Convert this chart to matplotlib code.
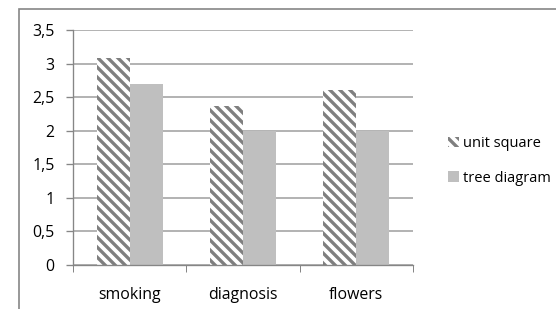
import matplotlib.pyplot as plt
from matplotlib.patches import Rectangle, Patch
import numpy as np

categories = ["smoking", "diagnosis", "flowers"]
unit_square = [3.08, 2.37, 2.6]
tree_diagram = [2.7, 2.0, 2.0]
series_names = ["unit square", "tree diagram"]
y_ticks = [0, 0.5, 1, 1.5, 2, 2.5, 3, 3.5]
y_tick_labels = ["0", "0,5", "1", "1,5", "2", "2,5", "3", "3,5"]

DPI = 120
plt.rcParams['font.family'] = ['Open Sans', 'DejaVu Sans']
plt.rcParams['hatch.linewidth'] = 2.0

fig = plt.figure(figsize=(556 / DPI, 309 / DPI), dpi=DPI)
ax = fig.add_axes([73 / 556, 44 / 309, 340 / 556, 235 / 309])

# chart border (cut off at right and bottom in the original)
fig.patches.append(Rectangle((19 / 556, -0.1), 1.2, (309 - 9) / 309 + 0.1,
                             transform=fig.transFigure, fill=False,
                             edgecolor='#868686', linewidth=1.0))

x = np.arange(len(categories)) + 0.5
w = 0.29
ax.bar(x - w / 2, unit_square, width=w, facecolor='white', hatch='\\\\\\\\',
       edgecolor='#7f7f7f', linewidth=0, zorder=3)
ax.bar(x + w / 2, tree_diagram, width=w, color='#bfbfbf', linewidth=0,
       zorder=3)

ax.set_xlim(0, 3)
ax.set_ylim(0, 3.5)
ax.set_yticks(y_ticks)
ax.set_yticklabels(y_tick_labels)
ax.set_xticks(x)
ax.set_xticklabels(categories)
ax.set_xticks([0, 1, 2, 3], minor=True)
ax.tick_params(axis='x', which='major', length=0, pad=13, labelsize=9.5)
ax.tick_params(axis='x', which='minor', length=4, color='#868686')
ax.tick_params(axis='y', length=4, color='#868686', pad=7, labelsize=9.5)

ax.grid(axis='y', color='#a6a6a6', linewidth=1.0, zorder=0)
ax.set_axisbelow(True)
for side in ['top', 'right']:
    ax.spines[side].set_visible(False)
for side in ['left', 'bottom']:
    ax.spines[side].set_color('#868686')
    ax.spines[side].set_zorder(4)

handles = [Patch(facecolor='white', hatch='\\\\\\\\', edgecolor='#7f7f7f', linewidth=0),
           Patch(facecolor='#bfbfbf', linewidth=0)]
fig.legend(handles, series_names, loc='center left',
           bbox_to_anchor=(441 / 556, 1 - 161 / 309), frameon=False,
           fontsize=8.8, handlelength=0.7, handleheight=0.7,
           handletextpad=0.3, labelspacing=1.3, borderpad=0)

fig.savefig("out.png", dpi=DPI)
